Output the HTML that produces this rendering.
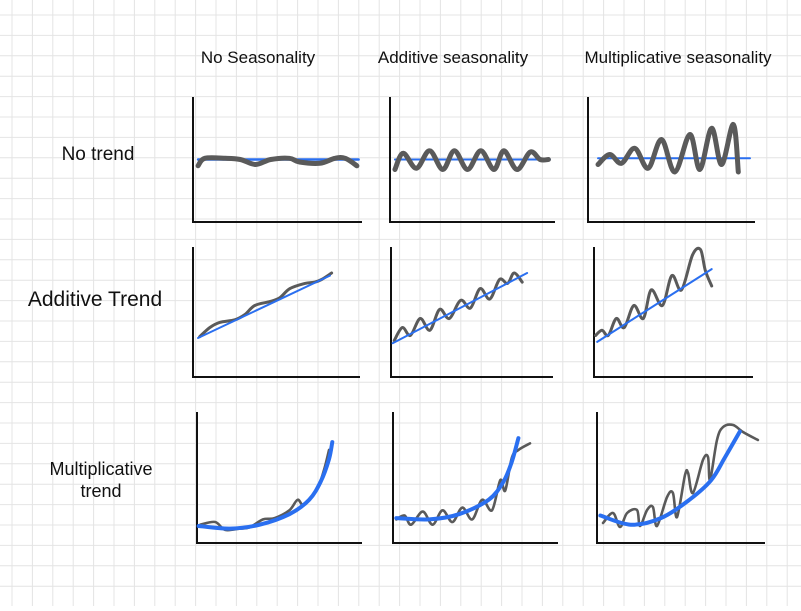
<!DOCTYPE html>
<html><head><meta charset="utf-8">
<style>
html,body{margin:0;padding:0;background:#fff;}
body{width:801px;height:606px;overflow:hidden;font-family:"Liberation Sans",sans-serif;}
svg text{font-family:"Liberation Sans",sans-serif;fill:#111;}
</style></head>
<body>
<svg id="chart" width="801" height="606" viewBox="0 0 801 606" xmlns="http://www.w3.org/2000/svg">
<g id="grid"></g>
<g>
<text x="258" y="63" font-size="17" text-anchor="middle">No Seasonality</text>
<text x="453" y="63" font-size="17" text-anchor="middle">Additive seasonality</text>
<text x="678" y="63" font-size="17" text-anchor="middle">Multiplicative seasonality</text>
</g>
<g>
<text x="98" y="160" font-size="19" text-anchor="middle">No trend</text>
<text x="95" y="306" font-size="21" text-anchor="middle">Additive Trend</text>
<text x="101" y="475" font-size="18" text-anchor="middle">Multiplicative</text>
<text x="101" y="497" font-size="18" text-anchor="middle">trend</text>
</g>
<g id="panels"></g>
</svg>
<script>
const panelNames = ['none-none','none-additive','none-multiplicative','additive-none','additive-additive','additive-multiplicative','multiplicative-none','multiplicative-additive','multiplicative-multiplicative'];
// Data in domain units (x 0..10, y 0..10) per panel
const trendX = [[0.3,9.8],[0.3,9.7],[0.6,9.7],[0.3,8.2],[0.1,8.4],[0.2,7.4],
  [0.1,2.0,3.8,5.6,6.8,7.5,8.0,8.2],[0.2,2.2,4.0,5.8,6.7,7.2,7.6],[0.2,2.0,3.8,5.5,6.8,7.6,8.5]];
const trendY = [[5.0,5.0],[5.0,5.0],[5.1,5.1],[3.0,7.8],[2.6,8.0],[2.7,8.3],
  [1.3,1.1,1.4,2.2,3.3,4.7,6.4,7.7],[1.9,1.8,2.2,3.3,4.7,6.2,8.0],[2.1,1.4,1.9,3.3,4.8,6.5,8.5]];
const seriesX = [
 [0.3,0.7,1.9,2.8,3.7,4.6,5.7,6.3,7.5,8.4,9.0,9.7],
 [0.3,0.8,1.6,2.4,3.2,3.9,4.7,5.5,6.3,6.9,7.7,8.5,9.1,9.6],
 [0.6,1.3,2.0,2.8,3.6,4.4,5.2,6.1,6.7,7.4,8.0,8.7,9.0],
 [0.4,1.0,1.6,2.5,3.1,3.7,4.6,5.2,5.8,6.7,7.3,7.7,8.3],
 [0.2,0.7,1.2,1.8,2.4,3.0,3.6,4.3,4.9,5.5,6.1,6.7,7.2,7.6,8.1],
 [0.1,0.5,0.9,1.4,1.9,2.5,3.1,3.6,4.3,4.9,5.5,6.2,6.7,7.0,7.4],
 [0.2,1.1,1.7,2.6,3.2,4.0,4.7,5.6,6.1,6.5,7.3,7.7,8.0],
 [0.2,0.7,1.1,1.8,2.4,3.0,3.6,4.2,4.8,5.4,6.0,6.5,6.8,7.2,7.6,8.3],
 [0.36,0.95,1.37,1.79,2.38,2.56,2.98,3.33,3.57,4.17,4.52,4.76,5.24,5.42,5.71,6.31,6.61,6.73,7.14,7.5,8.1,8.69,9.58]];
const seriesY = [
 [4.5,5.1,5.1,5.0,4.6,5.0,5.1,4.8,4.7,5.1,5.1,4.5],
 [4.2,5.5,4.3,5.7,4.2,5.7,4.2,5.7,4.2,5.7,4.2,5.6,5.0,5.0],
 [4.6,5.4,4.7,5.9,4.3,6.6,4.0,7.0,4.2,7.5,4.6,7.8,4.0],
 [3.1,3.8,4.2,4.4,4.8,5.5,5.8,6.1,6.8,7.2,7.3,7.5,8.0],
 [2.8,3.8,3.2,4.5,3.6,5.2,4.5,5.9,5.3,6.8,6.0,7.5,7.2,8.0,7.3],
 [3.2,3.6,3.2,4.5,3.8,5.5,4.5,6.7,5.5,7.8,6.7,9.4,9.8,8.2,7.0],
 [1.4,1.6,1.0,1.1,1.2,1.8,1.9,2.5,3.3,2.9,4.2,5.6,7.1],
 [1.8,2.1,1.4,2.4,1.4,2.5,1.6,2.7,1.8,3.3,2.5,4.8,4.0,6.5,7.1,7.6],
 [1.53,2.29,1.22,2.29,2.52,1.30,2.52,2.75,1.30,3.51,3.82,1.98,5.19,5.34,3.82,6.34,6.56,4.81,7.86,8.85,9.01,8.47,7.86]];

const boxes = [[193,97,362,222],[390,97,555,222],[588,97,755,222],
               [193,247,360,377],[391,247,553,377],[594,247,753,377],
               [197,412,362,543],[393,412,558,543],[597,412,765,543]];
const NS='http://www.w3.org/2000/svg';
const grid=document.getElementById('grid');
for(let x=12;x<801;x+=20.4){const l=document.createElementNS(NS,'line');l.setAttribute('x1',x);l.setAttribute('x2',x);l.setAttribute('y1',0);l.setAttribute('y2',606);l.setAttribute('stroke','#e4e4e4');l.setAttribute('stroke-width','1');


grid.appendChild(l);}
for(let y=15;y<606;y+=20.4){const l=document.createElementNS(NS,'line');l.setAttribute('y1',y);l.setAttribute('y2',y);l.setAttribute('x1',0);l.setAttribute('x2',801);l.setAttribute('stroke','#e4e4e4');l.setAttribute('stroke-width','1');


grid.appendChild(l);}

function pathFrom(pts){
  let d='M'+pts[0][0]+','+pts[0][1];
  for(let i=0;i<pts.length-1;i++){
    const p0=pts[i-1]||pts[i],p1=pts[i],p2=pts[i+1],p3=pts[i+2]||p2;
    const c1=[p1[0]+(p2[0]-p0[0])/6,p1[1]+(p2[1]-p0[1])/6];
    const c2=[p2[0]-(p3[0]-p1[0])/6,p2[1]-(p3[1]-p1[1])/6];
    d+=' C'+c1[0].toFixed(1)+','+c1[1].toFixed(1)+' '+c2[0].toFixed(1)+','+c2[1].toFixed(1)+' '+p2[0].toFixed(1)+','+p2[1].toFixed(1);
  }
  return d;
}
const panels=document.getElementById('panels');


boxes.forEach((b,i)=>{
  const [L,T,R,B]=b;
  const sx=v=>L+v/10*(R-L), sy=v=>B-v/10*(B-T);
  const g=document.createElementNS(NS,'g');
  
  
  const ax=document.createElementNS(NS,'path');
  ax.setAttribute('d','M'+L+','+T+' L'+L+','+B+' L'+R+','+B);
  ax.setAttribute('fill','none');ax.setAttribute('stroke','#111');ax.setAttribute('stroke-width','2');
  
  
  g.appendChild(ax);
  const row=Math.floor(i/3);
  const s=document.createElementNS(NS,'path');
  s.setAttribute('d',pathFrom(seriesX[i].map((x,k)=>[sx(x),sy(seriesY[i][k])])));
  s.setAttribute('fill','none');s.setAttribute('stroke','#5a5a5a');
  s.setAttribute('stroke-width',row===0?'5':(row===1?'3':'2.6'));
  s.setAttribute('stroke-linecap','round');s.setAttribute('stroke-linejoin','round');
  
  
  const t=document.createElementNS(NS,'path');
  t.setAttribute('d',pathFrom(trendX[i].map((x,k)=>[sx(x),sy(trendY[i][k])])));
  t.setAttribute('fill','none');t.setAttribute('stroke','#2a6ff0');
  t.setAttribute('stroke-width',row===2?'4':'2');t.setAttribute('stroke-linecap','round');
  
  
  if(row===0){g.appendChild(t);g.appendChild(s);}else{g.appendChild(s);g.appendChild(t);}
  if(row===0&&i===0){t.setAttribute('stroke-width','2.5');}
  panels.appendChild(g);
});
</script>
</body></html>
